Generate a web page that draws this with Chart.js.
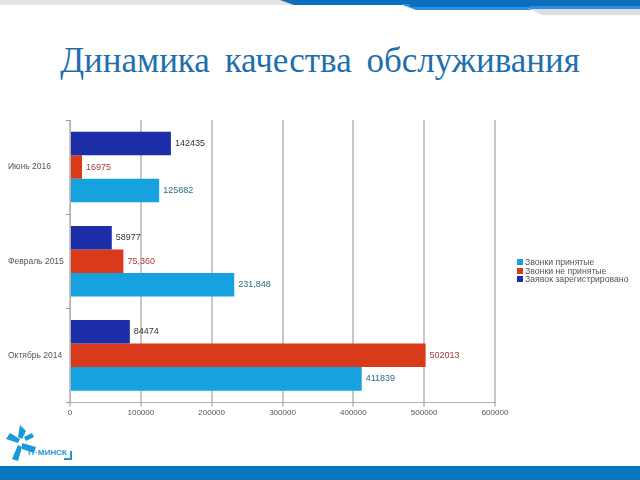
<!DOCTYPE html>
<html>
<head>
<meta charset="utf-8">
<script src="https://cdn.jsdelivr.net/npm/chart.js@4.4.1/dist/chart.umd.min.js"></script>
<style>
  html, body { margin:0; padding:0; background:#fff; width:640px; height:480px; overflow:hidden; }
  #title { position:absolute; left:0; top:41px; width:640px; text-align:center;
    font-family:"Liberation Serif","Times New Roman",serif; font-size:35px; color:#1f6fae; word-spacing:6px; }
  #wrap { position:absolute; left:0; top:100px; width:640px; height:320px; }
  .deco { position:absolute; }
  #footer { position:absolute; left:0; top:466px; width:640px; height:14px; background:#0a77c1; }
  #logotxt { position:absolute; left:28px; top:448px; font-family:"Liberation Sans",Arial,sans-serif; font-size:8px; font-weight:bold; color:#1a9ad6; }
  #legend { position:absolute; left:517px; top:258px; font-family:"Liberation Sans",Arial,sans-serif; font-size:8.7px; color:#555; }
  #legend div { height:8.7px; line-height:8.7px; white-space:nowrap; }
  #legend span { display:inline-block; width:6px; height:6px; margin-right:2px; vertical-align:0px; }
</style>
</head>
<body>
<div class="deco" style="left:0;top:0;width:300px;height:5px;background:#e3e3e3;"></div>
<div class="deco" style="left:280px;top:0;width:360px;height:5px;background:#0a6fbf;clip-path:polygon(0 0,100% 0,100% 100%,14px 100%);"></div>
<div class="deco" style="left:400px;top:4px;width:240px;height:6px;background:#2a8fe0;clip-path:polygon(0 0,100% 0,100% 100%,16px 100%);"></div>
<div class="deco" style="left:410px;top:4px;width:230px;height:3px;background:#0a6fbf;"></div>
<div class="deco" style="left:528px;top:8px;width:112px;height:7px;background:#dedede;clip-path:polygon(0 0,100% 0,100% 100%,14px 100%);"></div>
<div class="deco" style="left:530px;top:6px;width:110px;height:3px;background:#2a8fe0;"></div>
<div id="title">Динамика качества обслуживания</div>
<div id="wrap"><canvas id="c"></canvas></div>
<div id="legend"></div>
<svg class="deco" style="left:2px;top:423px;" width="40" height="40" viewBox="0 0 40 40">
  <g fill="#1a9ad6">
    <path d="M18 2 l6 6 -4 8 -4 -2z"/>
    <path d="M8 10 l10 6 -2 4 -12 -4z"/>
    <path d="M20 20 l14 4 -2 6 -12 -4z"/>
    <path d="M16 22 l4 2 -4 14 -6 -2z"/>
    <path d="M22 14 l8 -4 2 4 -8 4z"/>
  </g>
</svg>
<div id="logotxt">IT·МИНСК</div>
<div class="deco" style="left:70px;top:451px;width:2px;height:9px;background:#1a9ad6;"></div>
<div class="deco" style="left:64px;top:458px;width:8px;height:2px;background:#1a9ad6;"></div>
<div id="footer"></div>
<script>
const categories = ["Июнь 2016", "Февраль 2015", "Октябрь 2014"];
const seriesNames = ["Заявок зарегистрировано", "Звонки не принятые", "Звонки принятые"];
const registered = [142435, 58977, 84474];
const missed = [16975, 75360, 502013];
const accepted = [125882, 231848, 411839];
const registeredLabels = ["142435", "58977", "84474"];
const missedLabels = ["16975", "75,360", "502013"];
const acceptedLabels = ["125882", "231,848", "411839"];
const xTicks = [0, 100000, 200000, 300000, 400000, 500000, 600000];

const barColors = ["#1b2ea8", "#d93a1c", "#16a2df"];
const labelColors = ["#333333", "#a83a3a", "#2a6b88"];
const allLabels = [registeredLabels, missedLabels, acceptedLabels];

// HTML legend (reverse order, as in the reference)
const legendEl = document.getElementById('legend');
for (let i = seriesNames.length - 1; i >= 0; i--) {
  const row = document.createElement('div');
  const sw = document.createElement('span');
  sw.style.background = barColors[i];
  row.appendChild(sw);
  row.appendChild(document.createTextNode(seriesNames[i]));
  legendEl.appendChild(row);
}

const valueLabelPlugin = {
  id: 'valueLabels',
  afterDatasetsDraw(chart) {
    const ctx = chart.ctx;
    ctx.save();
    ctx.font = '9px "Liberation Sans", Arial, sans-serif';
    ctx.textBaseline = 'middle';
    ctx.textAlign = 'left';
    chart.data.datasets.forEach((ds, i) => {
      const meta = chart.getDatasetMeta(i);
      meta.data.forEach((bar, j) => {
        ctx.fillStyle = labelColors[i];
        ctx.fillText(allLabels[i][j], bar.x + 4, bar.y);
      });
    });
    ctx.restore();
  }
};

new Chart(document.getElementById('c'), {
  type: 'bar',
  data: {
    labels: categories,
    datasets: [
      { label: seriesNames[0], data: registered, backgroundColor: barColors[0] },
      { label: seriesNames[1], data: missed, backgroundColor: barColors[1] },
      { label: seriesNames[2], data: accepted, backgroundColor: barColors[2] }
    ]
  },
  options: {
    indexAxis: 'y',
    responsive: true,
    maintainAspectRatio: false,
    animation: false,
    datasets: { bar: { barPercentage: 1, categoryPercentage: 0.75 } },
    layout: { padding: { left: 8, right: 145, top: 20, bottom: 0 } },
    plugins: {
      title: { display: false },
      tooltip: { enabled: false },
      legend: { display: false }
    },
    scales: {
      x: {
        min: 0, max: 600000,
        afterBuildTicks(scale) { scale.ticks = xTicks.map(v => ({ value: v })); },
        ticks: {
          color: '#555', font: { size: 8, family: '"Liberation Sans", Arial, sans-serif' },
          maxRotation: 0, padding: 2,
          callback: (v) => String(v)
        },
        grid: { color: '#c8c8c8', lineWidth: 2, tickLength: 4, drawTicks: true },
        border: { color: '#b0b0b0', width: 1 }
      },
      y: {
        afterFit(scale) { scale.width = 62; },
        ticks: {
          color: '#555', font: { size: 8.5, family: '"Liberation Sans", Arial, sans-serif' },
          crossAlign: 'far',
          padding: 6
        },
        grid: { offset: true, drawOnChartArea: false, tickLength: 4, color: '#999' },
        border: { color: '#b0b0b0', width: 1 }
      }
    }
  },
  plugins: [valueLabelPlugin]
});
</script>
</body>
</html>
